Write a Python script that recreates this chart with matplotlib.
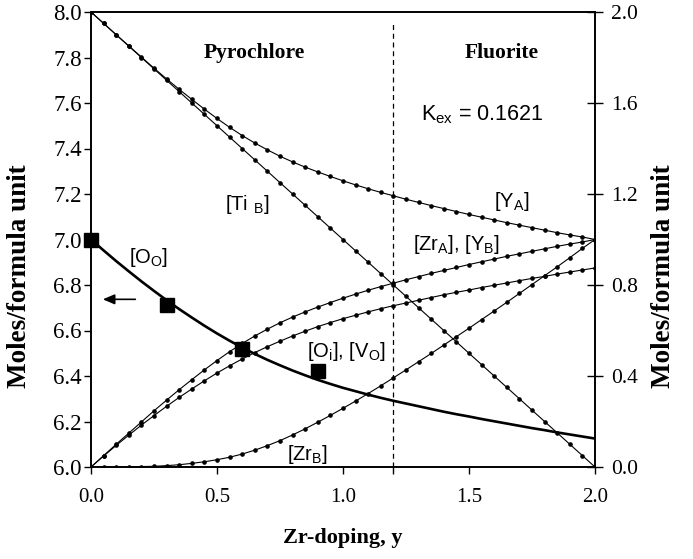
import numpy as np
import matplotlib
matplotlib.use("Agg")
import matplotlib.pyplot as plt

plt.rcParams['mathtext.default'] = 'regular'

# Zr doping (x axis)
y_dop = [0.00, 0.05, 0.10, 0.15, 0.20, 0.25, 0.30, 0.35, 0.40, 0.45,
         0.50, 0.55, 0.60, 0.65, 0.70, 0.75, 0.80, 0.85, 0.90, 0.95,
         1.00, 1.05, 1.10, 1.15, 1.20, 1.25, 1.30, 1.35, 1.40, 1.45,
         1.50, 1.55, 1.60, 1.65, 1.70, 1.75, 1.80, 1.85, 1.90, 1.95, 2.00]

# right axis series
ti_b = [2.00, 1.95, 1.90, 1.85, 1.80, 1.75, 1.70, 1.65, 1.60, 1.55,
        1.50, 1.45, 1.40, 1.35, 1.30, 1.25, 1.20, 1.15, 1.10, 1.05,
        1.00, 0.95, 0.90, 0.85, 0.80, 0.75, 0.70, 0.65, 0.60, 0.55,
        0.50, 0.45, 0.40, 0.35, 0.30, 0.25, 0.20, 0.15, 0.10, 0.05, 0.00]
y_a = [2.000, 1.950, 1.900, 1.851, 1.802, 1.753, 1.706, 1.660, 1.616, 1.573,
       1.532, 1.493, 1.457, 1.424, 1.394, 1.366, 1.341, 1.318, 1.297, 1.277,
       1.258, 1.240, 1.223, 1.207, 1.192, 1.177, 1.163, 1.149, 1.136, 1.123,
       1.110, 1.098, 1.086, 1.074, 1.063, 1.052, 1.041, 1.030, 1.020, 1.011, 1.000]
zr_a = [0.000, 0.050, 0.100, 0.149, 0.198, 0.247, 0.294, 0.340, 0.384, 0.427,
        0.468, 0.507, 0.543, 0.576, 0.606, 0.634, 0.659, 0.682, 0.703, 0.723,
        0.742, 0.760, 0.777, 0.793, 0.808, 0.823, 0.837, 0.851, 0.864, 0.877,
        0.890, 0.902, 0.914, 0.926, 0.937, 0.948, 0.959, 0.970, 0.980, 0.989, 1.000]
v_o = [0.000, 0.048, 0.095, 0.140, 0.184, 0.226, 0.267, 0.306, 0.343, 0.379,
       0.413, 0.445, 0.475, 0.503, 0.529, 0.553, 0.576, 0.597, 0.617, 0.635,
       0.652, 0.667, 0.682, 0.696, 0.709, 0.721, 0.733, 0.745, 0.757, 0.768,
       0.778, 0.789, 0.799, 0.809, 0.819, 0.829, 0.838, 0.848, 0.857, 0.866, 0.875]
zr_b = [0.000, 0.000, 0.000, 0.001, 0.002, 0.003, 0.006, 0.010, 0.016, 0.023,
        0.032, 0.043, 0.057, 0.074, 0.094, 0.116, 0.141, 0.168, 0.197, 0.227,
        0.258, 0.290, 0.323, 0.357, 0.392, 0.427, 0.463, 0.499, 0.536, 0.573,
        0.610, 0.648, 0.686, 0.724, 0.763, 0.802, 0.841, 0.880, 0.920, 0.961, 1.000]

# left axis series
o_o = [7.000, 6.952, 6.905, 6.860, 6.816, 6.774, 6.733, 6.694, 6.657, 6.621,
       6.587, 6.555, 6.525, 6.497, 6.471, 6.447, 6.424, 6.403, 6.383, 6.365,
       6.348, 6.333, 6.318, 6.304, 6.291, 6.279, 6.267, 6.255, 6.243, 6.232,
       6.222, 6.211, 6.201, 6.191, 6.181, 6.171, 6.162, 6.152, 6.143, 6.134, 6.125]
exp_y = [0.0, 0.3, 0.6, 0.9]
exp_o_o = [7.00, 6.71, 6.52, 6.42]

left_ticks = [6.0, 6.2, 6.4, 6.6, 6.8, 7.0, 7.2, 7.4, 7.6, 7.8, 8.0]
right_ticks = [0.0, 0.4, 0.8, 1.2, 1.6, 2.0]
x_ticks = [0.0, 0.5, 1.0, 1.5, 2.0]

SERIF = 'Liberation Serif'
SANS = 'Liberation Sans'
FS = 14.5

fig = plt.figure(figsize=(6.93, 5.59), dpi=100)
ax = fig.add_axes([91/693, 1-467/559, (595-91)/693, (467-12)/559])
ax2 = ax.twinx()

ax.set_xlim(0, 2)
ax.set_ylim(6, 8)
ax2.set_ylim(0, 2)

# dotted model curves on the right axis
for s in (ti_b, y_a, zr_a, v_o, zr_b):
    ax2.plot(y_dop, s, color='black', lw=0.8, marker='o', ms=2.3,
             mec='black', mfc='black')

# oxygen on left axis
ax.plot(y_dop, o_o, color='black', lw=1.9, zorder=3)
ax.plot(exp_y, exp_o_o, ls='none', marker='s', ms=10, color='black',
        clip_on=False, zorder=4)

# phase boundary
ax.plot([1.2, 1.2], [6.0, 7.955], ls=(0, (4, 3)), color='black', lw=0.9)

ax.set_zorder(2)
ax.patch.set_visible(False)

# ticks
ax.set_xticks(x_ticks)
ax.set_xticklabels([f'{v:.1f}' for v in x_ticks], fontfamily=SERIF, fontsize=15)
ax.set_xticks([1.2], minor=True)
ax.set_yticks(left_ticks)
ax.set_yticklabels([f'{v:.1f}' for v in left_ticks], fontfamily=SERIF, fontsize=16.5)
ax2.set_yticks(right_ticks)
ax2.set_yticklabels([f'{v:.1f}' for v in right_ticks], fontfamily=SERIF, fontsize=15.5)

ax.tick_params(axis='x', which='both', direction='out', length=5, width=1.0, pad=10)
ax.tick_params(axis='y', direction='out', length=5, width=1.0, pad=1.5)
ax2.tick_params(axis='y', direction='inout', length=11, width=1.0, pad=6)

for a in (ax, ax2):
    for sp in a.spines.values():
        sp.set_linewidth(1.2)

ax.set_xlabel('Zr-doping, y', fontfamily=SERIF, fontsize=16, fontweight='bold')
ax.xaxis.set_label_coords(0.5, -0.133)
ax.set_ylabel('Moles/formula unit', fontfamily=SERIF, fontsize=19.5, fontweight='bold')
ax.yaxis.set_label_coords(-0.117, 0.42)
ax2.set_ylabel('Moles/formula unit', fontfamily=SERIF, fontsize=19.5, fontweight='bold',
               rotation=90)
ax2.yaxis.set_label_coords(1.111, 0.42)

# annotations (left-axis data coordinates)
ax.text(0.65, 7.82, 'Pyrochlore', fontfamily=SERIF, fontsize=15.5, fontweight='bold',
        ha='center', va='center')
ax.text(1.63, 7.82, 'Fluorite', fontfamily=SERIF, fontsize=15.5, fontweight='bold',
        ha='center', va='center')
ax.text(1.553, 7.547, r'K$_{ex}$ = 0.1621', fontfamily=SANS, fontsize=15.5,
        ha='center', va='center')
ax.text(0.619, 7.156, r'[Ti $_{B}$]', fontfamily=SANS, fontsize=FS, ha='center', va='center')
ax.text(1.669, 7.166, r'[Y$_{A}$]', fontfamily=SANS, fontsize=FS, ha='center', va='center')
ax.text(1.451, 6.976, r'[Zr$_{A}$], [Y$_{B}$]', fontfamily=SANS, fontsize=FS,
        ha='center', va='center')
ax.text(0.23, 6.919, r'[O$_{O}$]', fontfamily=SANS, fontsize=FS, ha='center', va='center')
ax.text(1.012, 6.507, r'[O$_{i}$], [V$_{O}$]', fontfamily=SANS, fontsize=FS,
        ha='center', va='center')
ax.text(0.86, 6.053, r'[Zr$_{B}$]', fontfamily=SANS, fontsize=FS, ha='center', va='center')

ax.annotate('', xy=(0.036, 6.737), xytext=(0.187, 6.737),
            arrowprops=dict(arrowstyle='-|>,head_length=0.7,head_width=0.3',
                            color='black', lw=1.2))

fig.savefig('out.png', dpi=100)
